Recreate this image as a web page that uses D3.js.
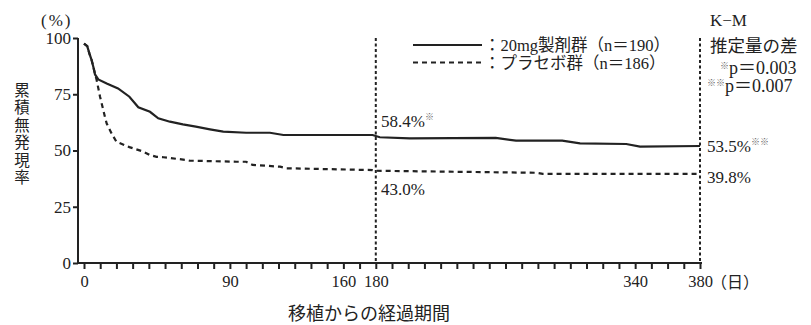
<!DOCTYPE html>
<html><head><meta charset="utf-8">
<script src="https://cdn.jsdelivr.net/npm/d3@7"></script>
<style>
html,body{margin:0;padding:0;background:#fff;}
svg{display:block;}
text{fill:#222;font-family:"Liberation Serif","Noto Sans CJK JP",serif;}
.cjk{font-family:"Noto Sans CJK JP","Liberation Serif",sans-serif;}
</style></head>
<body>
<script>
// ---- data ----
const days20 = [0, 2, 3.3, 4.7, 5.7, 6.8, 8.8, 14, 21, 28, 33.5, 40.7, 45.8, 53, 61, 69, 77.7, 85.9, 100, 114.7, 123, 178, 182.5, 201, 254, 266.5, 295, 306, 334.5, 343, 380];
const vals20 = [97.5, 96.4, 93.2, 90.2, 87.3, 83.8, 81.6, 79.8, 77.6, 73.9, 69.2, 67.2, 64.3, 62.8, 61.6, 60.6, 59.4, 58.4, 57.9, 57.9, 56.9, 56.9, 55.9, 55.4, 55.6, 54.4, 54.4, 53.2, 52.9, 51.7, 52.0];
const daysPl = [0, 2, 3.3, 4.7, 5.7, 7.8, 9.9, 12.9, 14, 17, 20, 28, 36.6, 40.7, 44.8, 49, 63, 65, 94, 100, 104, 121, 125, 178, 180, 279, 283, 380];
const valsPl = [97.5, 96.4, 93.2, 90.2, 87.3, 81.3, 73.9, 65, 62, 57.6, 53.9, 51.5, 49.5, 48, 47.2, 47, 45.8, 45.5, 45, 45, 43.6, 42.8, 42.1, 41.3, 41, 40.1, 39.6, 39.6];
const yTicks = [0, 25, 50, 75, 100];
const xTickLabels = [0, 90, 160, 180, 340, 380];
const refDays = [180, 380];
const seriesNames = ["：20mg製剤群（n＝190）", "：プラセボ群（n＝186）"];

// ---- chart ----
const W = 811, H = 325;
const svg = d3.select("body").append("svg").attr("width", W).attr("height", H);
const x = d3.scaleLinear().domain([0, 380]).range([84, 700]);
const y = d3.scaleLinear().domain([0, 100]).range([263, 38]);
const ink = "#222";

// reference dotted lines
svg.selectAll(".ref").data(refDays).enter().append("line")
  .attr("x1", d => x(d)).attr("x2", d => x(d))
  .attr("y1", y(100)).attr("y2", y(0))
  .attr("stroke", ink).attr("stroke-width", 2).attr("stroke-dasharray", "3,2.5");

// axes
const yAxis = d3.axisLeft(y).tickValues(yTicks).tickSize(5).tickPadding(2);
const gy = svg.append("g").attr("transform", "translate(78,0)").call(yAxis);
const xAxis = d3.axisBottom(x).tickValues(d3.range(0, 381, 10)).tickSize(6).tickPadding(6)
  .tickFormat(d => xTickLabels.includes(d) ? String(d) : "");
const gx = svg.append("g").attr("transform", "translate(0,263)").call(xAxis);
[gx, gy].forEach(g => {
  g.select(".domain").remove();
  g.selectAll(".tick line").attr("stroke", ink).attr("stroke-width", 2);
  g.selectAll("text").attr("font-size", 16.5).attr("fill", ink)
    .attr("font-family", "Liberation Serif");
});
gy.selectAll("text").attr("font-size", 17);
// axis lines
svg.append("line").attr("x1", 78).attr("x2", 78).attr("y1", y(100)).attr("y2", y(0) + 1)
  .attr("stroke", ink).attr("stroke-width", 2);
svg.append("line").attr("x1", 77).attr("x2", x(380) + 2).attr("y1", y(0)).attr("y2", y(0))
  .attr("stroke", ink).attr("stroke-width", 2);

svg.append("text").attr("class", "cjk").attr("x", 711).attr("y", 288).attr("font-size", 16).text("（日）");

// curves
const line = d3.line().x(d => x(d[0])).y(d => y(d[1]));
svg.append("path").datum(d3.zip(daysPl, valsPl)).attr("d", line)
  .attr("fill", "none").attr("stroke", ink).attr("stroke-width", 2.2).attr("stroke-dasharray", "5,4");
svg.append("path").datum(d3.zip(days20, vals20)).attr("d", line)
  .attr("fill", "none").attr("stroke", ink).attr("stroke-width", 2.2);

// legend
const lg = svg.append("g");
[0, 1].forEach(i => {
  const ly = 45 + i * 17.5;
  lg.append("line").attr("x1", 413).attr("x2", 482).attr("y1", ly).attr("y2", ly)
    .attr("stroke", ink).attr("stroke-width", 2).attr("stroke-dasharray", i ? "5,4" : null);
  lg.append("text").attr("x", 484).attr("y", ly + 6).attr("font-size", 16.5).text(seriesNames[i]);
});

// y titles
svg.append("text").attr("x", 41).attr("y", 26).attr("font-size", 17).attr("letter-spacing", 2).text("(%)");
svg.append("text").attr("class", "cjk")
  .attr("x", 22).attr("y", 82)
  .style("writing-mode", "vertical-rl").attr("letter-spacing", 2)
  .attr("font-size", 15.5).text("累積無発現率");

// x title
svg.append("text").attr("class", "cjk").attr("x", 369).attr("y", 320).attr("text-anchor", "middle")
  .attr("font-size", 18).text("移植からの経過期間");

// annotations
function ann(xp, yp, main, sup) {
  const t = svg.append("text").attr("x", xp).attr("y", yp).attr("font-size", 17);
  t.append("tspan").text(main);
  if (sup) t.append("tspan").attr("class", "cjk").attr("font-size", 9).attr("dy", -7).attr("fill", "#666").text(sup);
}
ann(381, 127, "58.4%", "※");
ann(381, 195, "43.0%", "");
ann(707, 152, "53.5%", "※※");
ann(707, 183, "39.8%", "");

// right side K-M notes
svg.append("text").attr("x", 710).attr("y", 26).attr("font-size", 17).text("K−M");
svg.append("text").attr("class", "cjk").attr("x", 710).attr("y", 52).attr("font-size", 17.5).text("推定量の差");
const p1 = svg.append("text").attr("x", 720).attr("y", 74).attr("font-size", 18);
p1.append("tspan").attr("class", "cjk").attr("font-size", 9).attr("dy", -5).attr("fill", "#666").text("※");
p1.append("tspan").attr("dy", 5).text("p＝0.003");
const p2 = svg.append("text").attr("x", 707).attr("y", 92).attr("font-size", 18);
p2.append("tspan").attr("class", "cjk").attr("font-size", 9).attr("dy", -6).attr("fill", "#666").text("※※");
p2.append("tspan").attr("dy", 6).text("p＝0.007");
</script>
</body></html>
